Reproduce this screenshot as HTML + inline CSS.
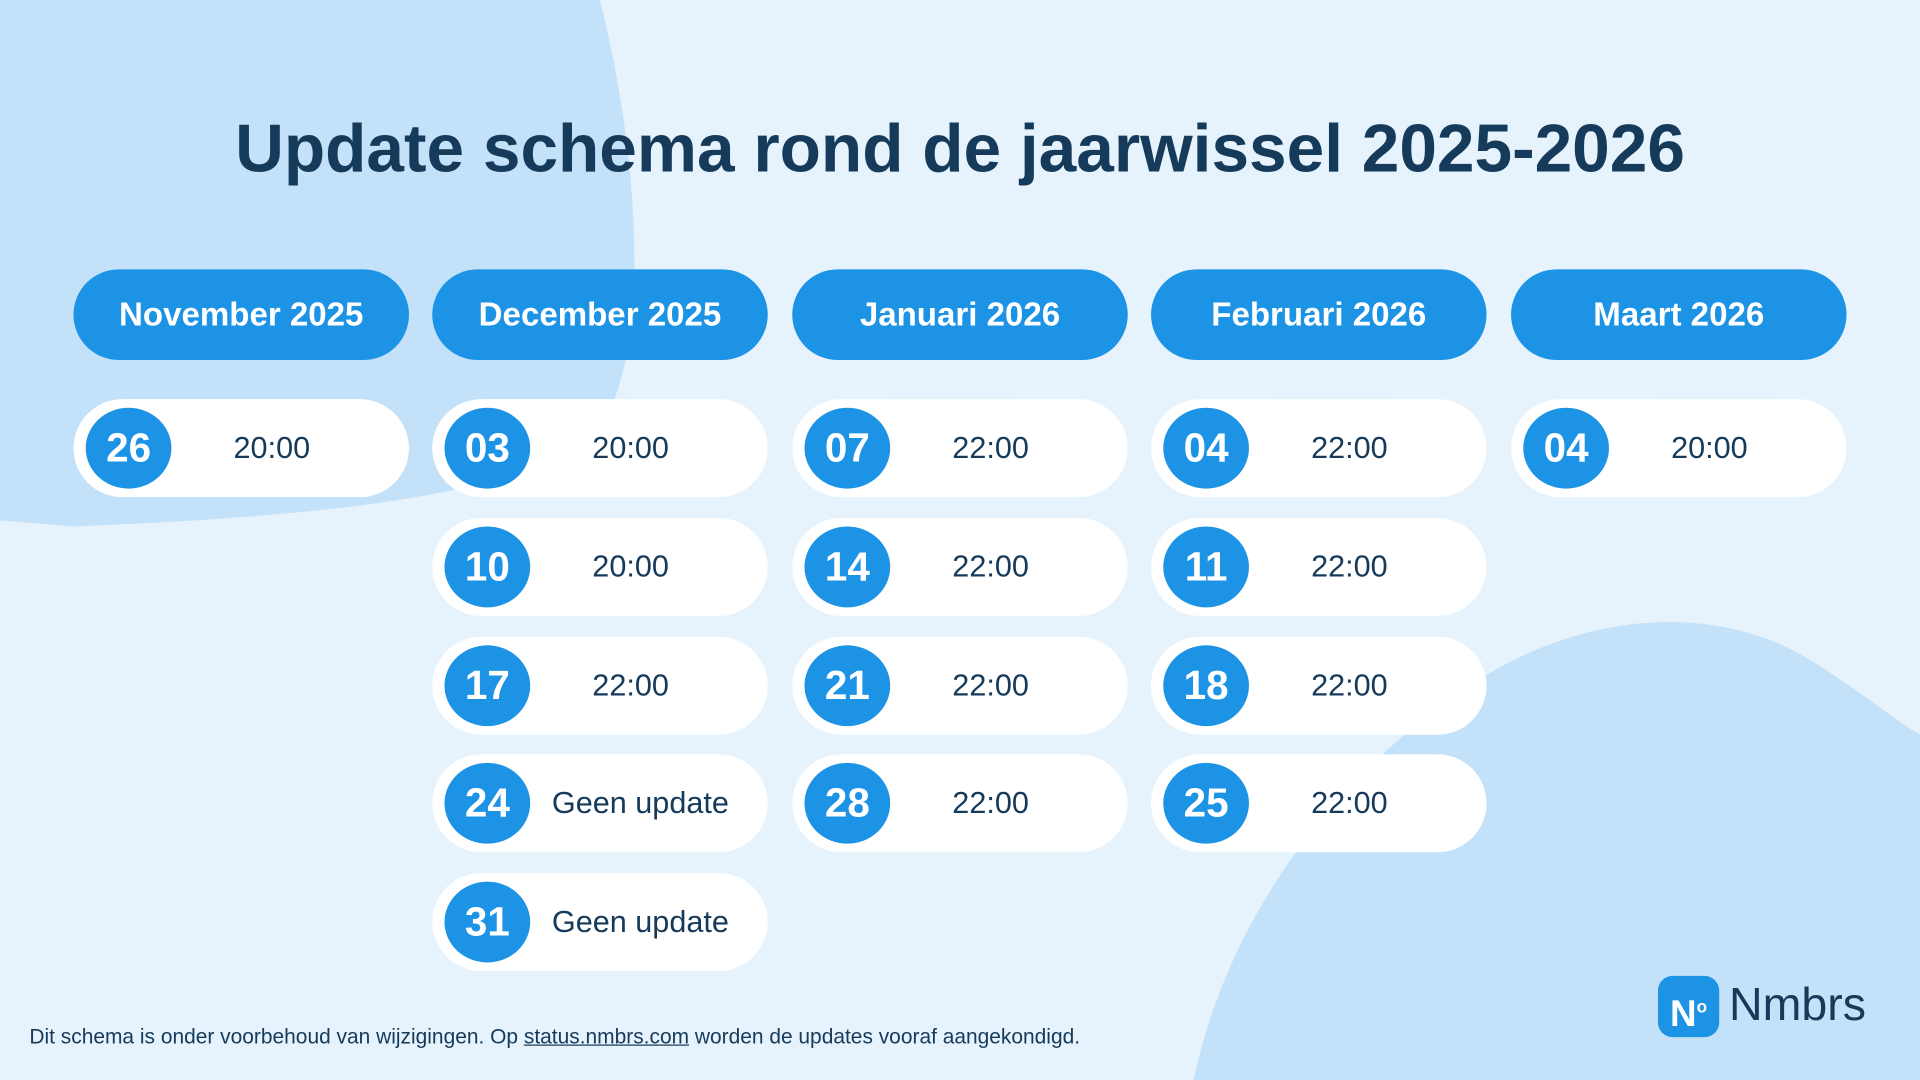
<!DOCTYPE html>
<html><head><meta charset="utf-8"><style>
html,body{margin:0;padding:0;width:1920px;height:1080px;overflow:hidden;background:#e6f3fc}
#s{position:absolute;left:0;top:0;width:1568px;height:882px;transform:scale(1.22449);transform-origin:0 0;font-family:"Liberation Sans",sans-serif;overflow:hidden}
h1{position:absolute;top:89px;left:0;width:1568px;text-align:center;margin:0;font-size:55.2px;color:#163a5a;font-weight:bold}
.hd{position:absolute;top:220px;width:274px;height:74px;border-radius:37px;background:#1d93e6;color:#fff;font-weight:bold;font-size:27px;text-align:center;line-height:74px}
.it{position:absolute;width:274px;height:80px;border-radius:40px;background:#fff}
.it .d{position:absolute;left:10px;top:7px;width:70px;height:66px;border-radius:50%;background:#1d93e6;color:#fff;font-weight:bold;font-size:33px;text-align:center;line-height:66px}
.it .t{position:absolute;left:80px;right:0;top:0;line-height:80px;text-align:center;font-size:25px;color:#163a5a;padding-right:30px}
.it .g{padding-right:14px}
</style></head><body><div id="s">
<svg width="1568" height="882" style="position:absolute;left:0;top:0">
<path d="M0 0 L490 0 C520 120 530 260 500 330 C470 400 300 420 60 430 L0 425 Z" fill="#c3e1f8"/>
<path d="M975 882 C1000 760 1080 640 1200 560 C1290 500 1400 490 1480 540 C1520 565 1550 590 1568 600 L1568 882 Z" fill="#c3e1f8"/>
</svg>
<h1>Update schema rond de jaarwissel 2025-2026</h1>
<div class="hd" style="left:60px">November 2025</div>
<div class="hd" style="left:353px">December 2025</div>
<div class="hd" style="left:647px">Januari 2026</div>
<div class="hd" style="left:940px">Februari 2026</div>
<div class="hd" style="left:1234px">Maart 2026</div>

<div class="it" style="left:60px;top:326px"><div class="d">26</div><div class="t">20:00</div></div>

<div class="it" style="left:353px;top:326px"><div class="d">03</div><div class="t">20:00</div></div>
<div class="it" style="left:353px;top:423px"><div class="d">10</div><div class="t">20:00</div></div>
<div class="it" style="left:353px;top:520px"><div class="d">17</div><div class="t">22:00</div></div>
<div class="it" style="left:353px;top:616px"><div class="d">24</div><div class="t g">Geen update</div></div>
<div class="it" style="left:353px;top:713px"><div class="d">31</div><div class="t g">Geen update</div></div>

<div class="it" style="left:647px;top:326px"><div class="d">07</div><div class="t">22:00</div></div>
<div class="it" style="left:647px;top:423px"><div class="d">14</div><div class="t">22:00</div></div>
<div class="it" style="left:647px;top:520px"><div class="d">21</div><div class="t">22:00</div></div>
<div class="it" style="left:647px;top:616px"><div class="d">28</div><div class="t">22:00</div></div>

<div class="it" style="left:940px;top:326px"><div class="d">04</div><div class="t">22:00</div></div>
<div class="it" style="left:940px;top:423px"><div class="d">11</div><div class="t">22:00</div></div>
<div class="it" style="left:940px;top:520px"><div class="d">18</div><div class="t">22:00</div></div>
<div class="it" style="left:940px;top:616px"><div class="d">25</div><div class="t">22:00</div></div>

<div class="it" style="left:1234px;top:326px"><div class="d">04</div><div class="t">20:00</div></div>

<div style="position:absolute;left:24px;top:837px;font-size:17.1px;color:#163a5a">Dit schema is onder voorbehoud van wijzigingen. Op <u>status.nmbrs.com</u> worden de updates vooraf aangekondigd.</div>
<div style="position:absolute;left:1354px;top:797px;width:50px;height:50px;border-radius:12px;background:#1d93e6;color:#fff;font-weight:bold;font-size:30px;line-height:50px;text-align:center">N<sup style="font-size:14px">o</sup></div>
<div style="position:absolute;left:1412px;top:800px;font-size:38px;color:#163a5a">Nmbrs</div>
</div></body></html>
